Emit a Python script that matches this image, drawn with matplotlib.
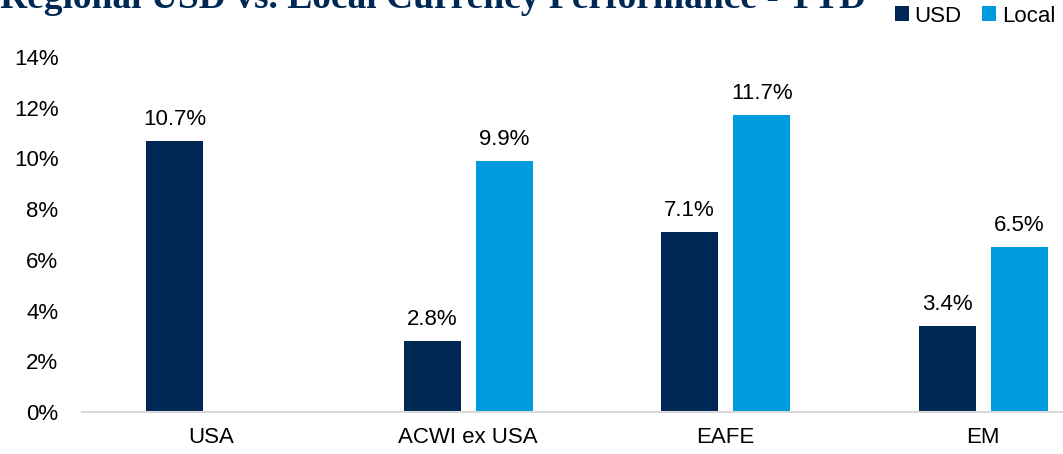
import matplotlib
matplotlib.use('Agg')
import matplotlib.pyplot as plt
import numpy as np

regions = ['USA', 'ACWI ex USA', 'EAFE', 'EM']
usd = [10.7, 2.8, 7.1, 3.4]
local = [None, 9.9, 11.7, 6.5]
y_ticks = [0, 2, 4, 6, 8, 10, 12, 14]

navy = '#002855'
blue = '#009ADE'

plt.rcParams['font.family'] = ['Liberation Sans', 'DejaVu Sans']

fig = plt.figure(figsize=(10.63, 4.54), dpi=100)
ax = fig.add_axes([82 / 1063, 42 / 454, 1030 / 1063, 355 / 454])

x = np.arange(len(regions))
w = 0.221
off = 0.14

local_vals = [v if v is not None else 0 for v in local]
b1 = ax.bar(x - off, usd, w, color=navy, label='USD')
b2 = ax.bar(x + off, local_vals, w, color=blue, label='Local')

for xi, v in zip(x - off, usd):
    ax.annotate(f'{v:.1f}%', (xi, v), xytext=(0, 8), textcoords='offset points',
                ha='center', va='bottom', fontsize=16, color='#000000')
for xi, v in zip(x + off, local):
    if v is None:
        continue
    ax.annotate(f'{v:.1f}%', (xi, v), xytext=(0, 8), textcoords='offset points',
                ha='center', va='bottom', fontsize=16, color='#000000')

ax.set_xlim(-0.5, 3.5)
ax.set_ylim(0, 14)
ax.set_yticks(y_ticks)
ax.set_yticklabels([f'{t}%' for t in y_ticks])
ax.set_xticks(x)
ax.set_xticklabels(regions)
ax.tick_params(axis='both', length=0, labelsize=16, colors='#000000')
ax.tick_params(axis='x', pad=11)
ax.tick_params(axis='y', pad=17)
for s in ['top', 'right', 'left']:
    ax.spines[s].set_visible(False)
ax.spines['bottom'].set_color('#D9D9D9')
ax.spines['bottom'].set_linewidth(1.5)

# title sits partly above the top edge, as in the source image
fig.text(0.0, 446 / 454, 'Regional USD vs. Local Currency Performance - YTD',
         family='Liberation Serif', fontweight='bold', fontsize=27, color='#002855',
         ha='left', va='baseline')

fig.legend(handles=[b1, b2], labels=['USD', 'Local'], loc='center right',
           bbox_to_anchor=(1.003, 1 - 16 / 454), ncol=2, frameon=False, fontsize=16,
           handlelength=0.65, handleheight=0.65, handletextpad=0.25, columnspacing=0.9,
           borderpad=0.0)

fig.savefig('out.png', dpi=100)
